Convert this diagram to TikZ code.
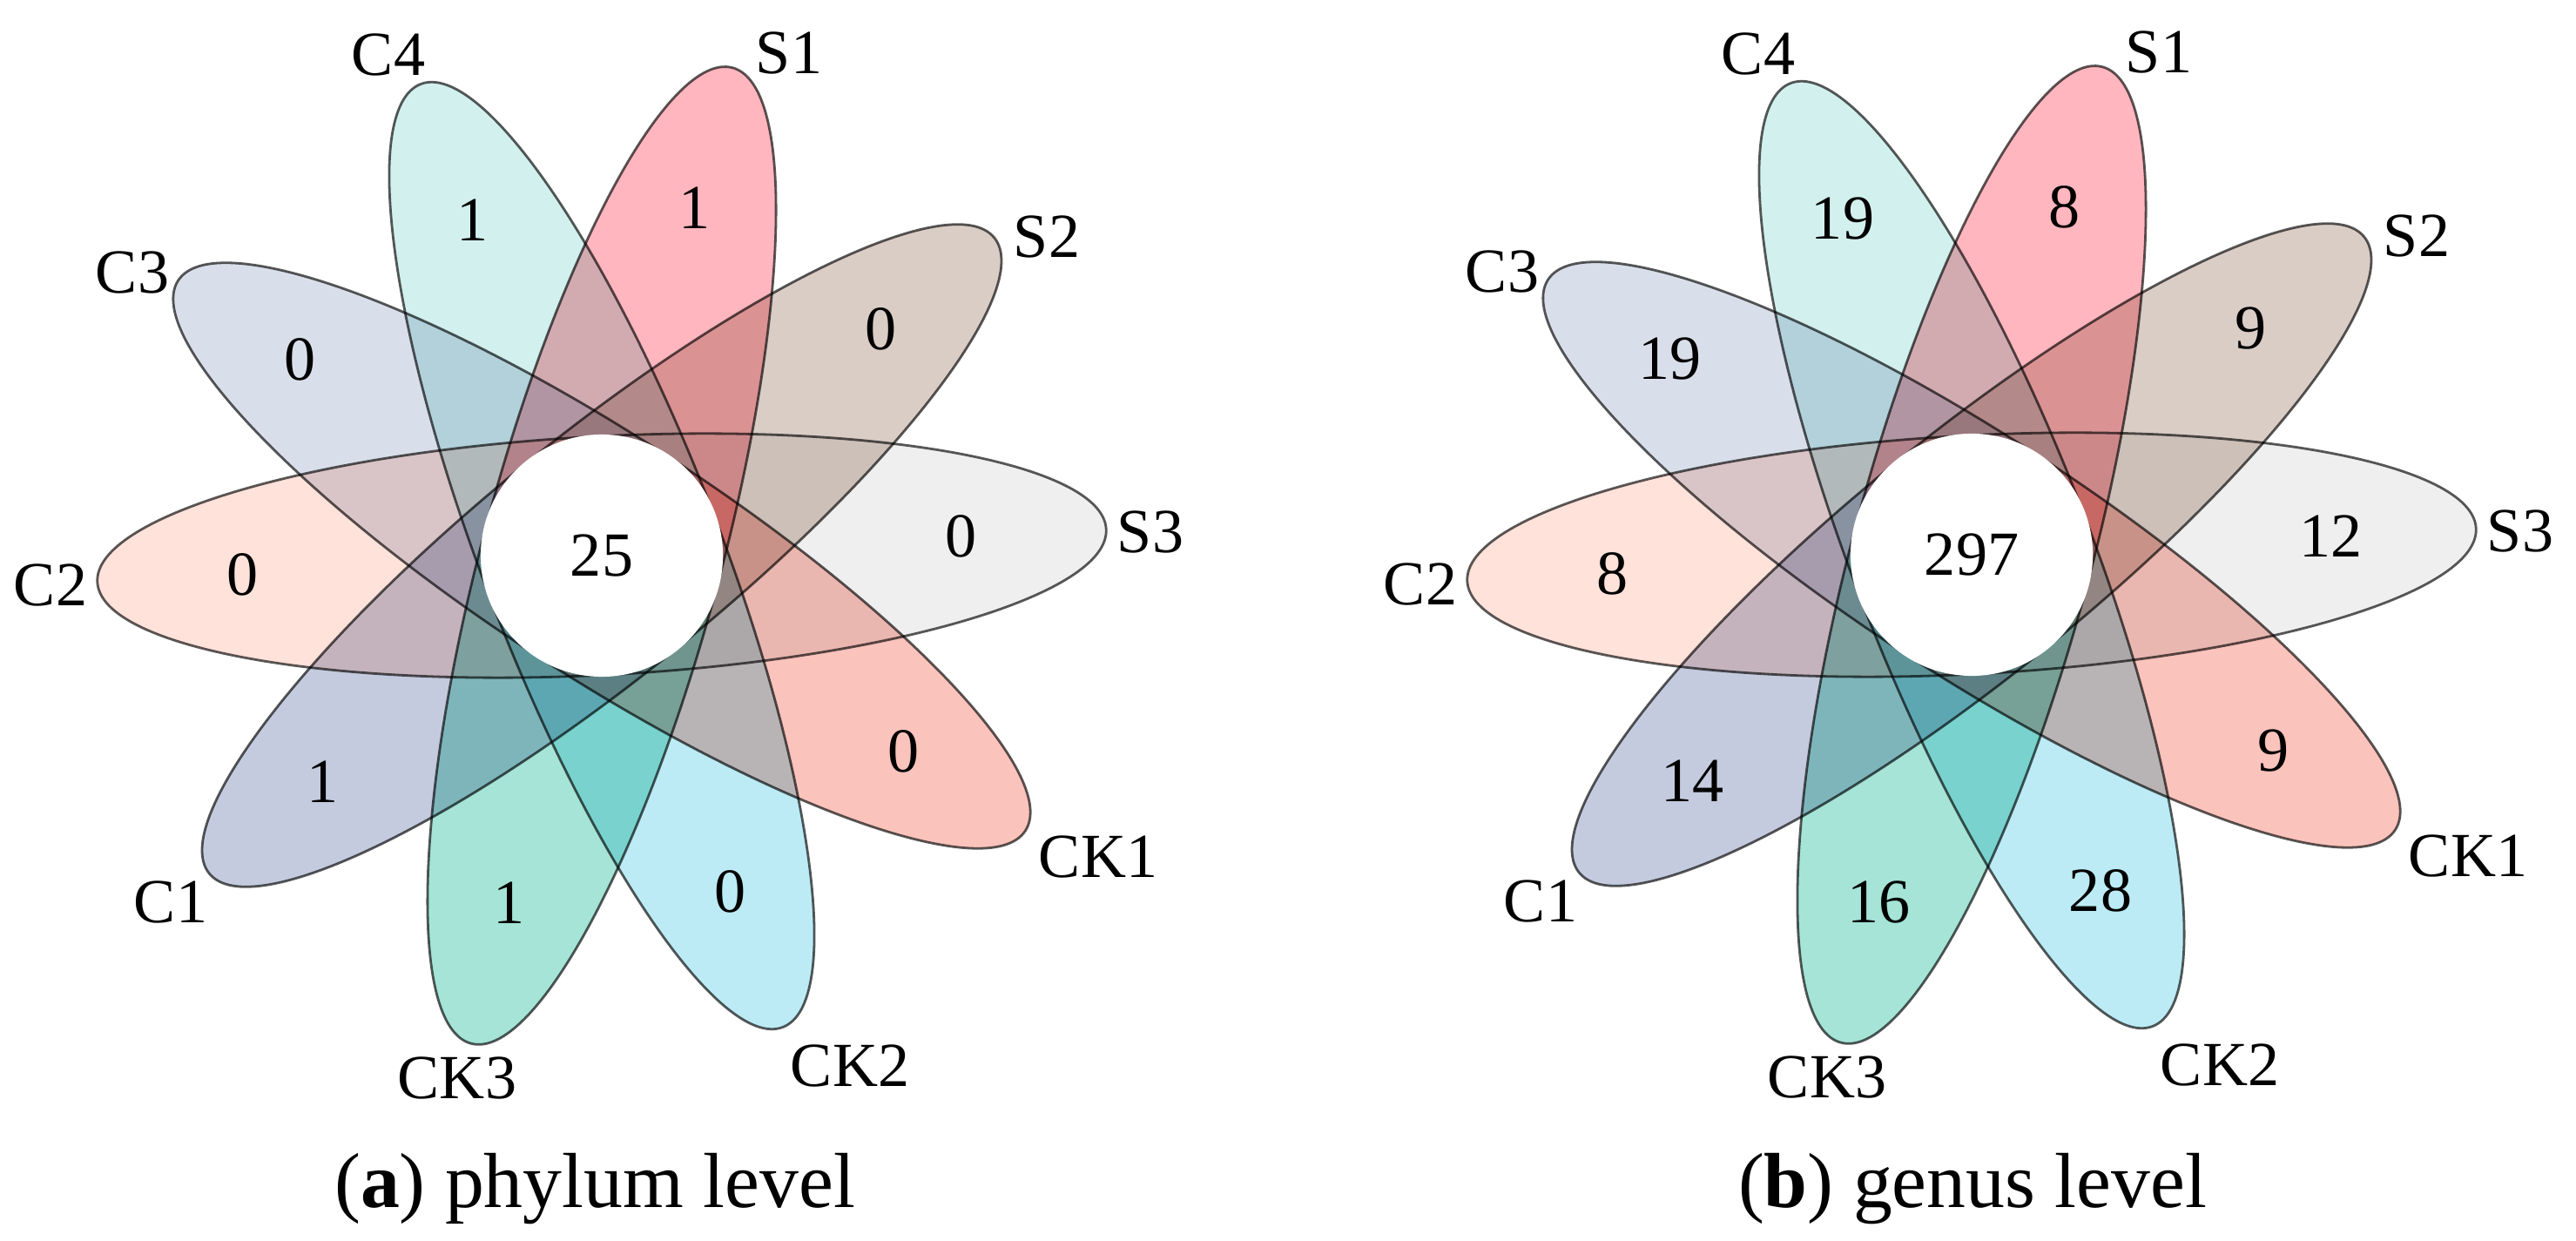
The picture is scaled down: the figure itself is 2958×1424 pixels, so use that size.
\documentclass[tikz,border=0pt]{standalone}
\usepackage{fontspec}
\setmainfont{Liberation Serif}
\definecolor{cS1}{HTML}{FFB6BE}
\definecolor{cS2}{HTML}{DACDC6}
\definecolor{cS3}{HTML}{EFEFEF}
\definecolor{cCK1}{HTML}{FAC3BC}
\definecolor{cCK2}{HTML}{BCEBF5}
\definecolor{cCK3}{HTML}{A5E4D7}
\definecolor{cC1}{HTML}{C4CBDE}
\definecolor{cC2}{HTML}{FFE2DA}
\definecolor{cC3}{HTML}{D9DFEA}
\definecolor{cC4}{HTML}{D2F0EE}
\begin{document}
\begin{tikzpicture}[x=0.01cm,y=0.01cm,
  petalfill/.style={blend mode=multiply},
  petaledge/.style={draw=black, draw opacity=0.65, line width=0.028cm},
  lbl/.style={inner sep=0pt, font=\fontsize{20.5}{24}\selectfont},
  num/.style={inner sep=0pt, font=\fontsize{20.5}{24}\selectfont},
  core/.style={circle, fill=white, minimum size=2.78cm, inner sep=0pt, font=\fontsize{20.5}{24}\selectfont},
  capt/.style={anchor=base, inner sep=0pt, font=\fontsize{25.5}{30}\selectfont}]
\fill[white] (0,0) rectangle (2958,1424);
\useasboundingbox (0,0) rectangle (2958,1424);
\foreach \F/\cx/\cy in {L/691/786, R/2264/787} {
  \begin{scope}[shift={(\cx,\cy)}]
    \foreach \a/\c in {75/cS1, 39/cS2, 3/cS3, -33/cCK1, -69/cCK2, -105/cCK3, -141/cC1, -177/cC2, 147/cC3, 111/cC4}
      \fill[\c, petalfill, rotate=\a] (0,-137) arc[start angle=-90, end angle=90, x radius=580, y radius=137] -- cycle;
    \foreach \a in {75, 39, 3, -33, -69, -105, -141, -177, 147, 111}
      \draw[petaledge, rotate=\a] (0,-137) arc[start angle=-90, end angle=90, x radius=580, y radius=137];
    \foreach \n/\dx/\dy in {S1/215/577, S2/511/366, S3/630/27, CK1/570/-346, CK2/285/-586, CK3/-166/-600, C1/-495/-398, C2/-633/-34, C3/-539/325, C4/-245/575}
      \node[lbl] (\F-lab-\n) at (\dx,\dy) {\n};
  \end{scope}
}
\node[core] (L-core) at (691,786) {25};
\node[core] (R-core) at (2264,787) {297};
\begin{scope}[shift={(691,786)}]
  \foreach \n/\a/\v in {S1/75/1, S2/39/0, S3/3/0, CK1/-33/0, CK2/-69/0, CK3/-105/1, C1/-141/1, C2/-177/0, C3/147/0, C4/111/1}
    \node[num] (L-num-\n) at (\a:413) {\v};
\end{scope}
\begin{scope}[shift={(2264,787)}]
  \foreach \n/\a/\v in {S1/75/8, S2/39/9, S3/3/12, CK1/-33/9, CK2/-69/28, CK3/-105/16, C1/-141/14, C2/-177/8, C3/147/19, C4/111/19}
    \node[num] (R-num-\n) at (\a:413) {\v};
\end{scope}
\node[capt] (L-cap) at (683,38) {(\textbf{a}) phylum level};
\node[capt] (R-cap) at (2265,38) {(\textbf{b}) genus level};
\end{tikzpicture}
\end{document}
